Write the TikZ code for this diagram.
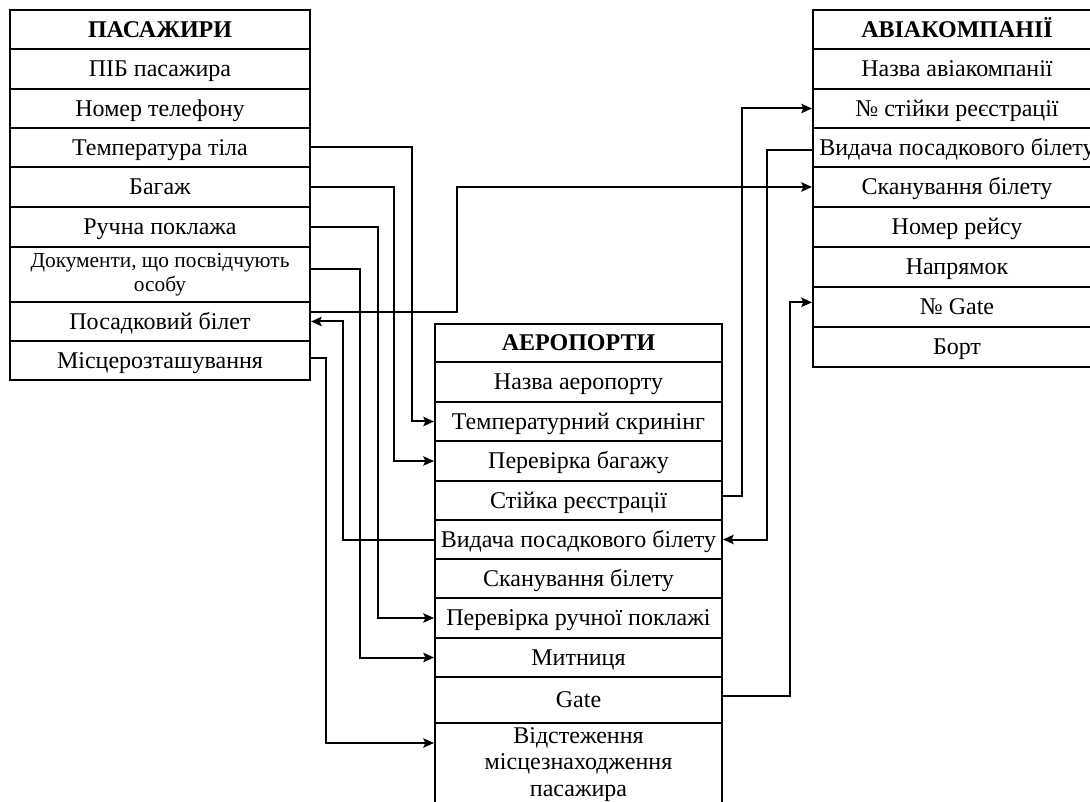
\documentclass[tikz,border=0pt]{standalone}
\usepackage{fontspec}
\setmainfont{Liberation Serif}
\usetikzlibrary{arrows.meta}
\newcommand\tcell[7][]{\node[cellst,#1,minimum width={(#4-#2)*0.75pt},minimum height={(#5-#3)*0.75pt}] (#6) at ({(#2+#4)/2},{(#3+#5)/2}) {#7};}
\tikzset{
  cellst/.style={draw,line width=1.5pt,inner sep=0pt,font=\fontsize{18}{20}\selectfont,align=center},
  one/.style={text height=11.9pt,text depth=0pt},
  hdr/.style={one,font=\fontsize{18}{20}\selectfont\bfseries},
  small/.style={font=\fontsize{16}{18}\selectfont},
  conn/.style={line width=1.5pt},
  arr/.style={conn,-{Stealth[length=8pt,width=7pt,inset=1.5pt]}}
}
\begin{document}
\begin{tikzpicture}[x=0.75pt,y=-0.75pt]
\useasboundingbox (0,0) rectangle (1090,802);
\clip (0,0) rectangle (1090,802);
\fill[white] (0,0) rectangle (1090,802);
% Left table
\tcell[hdr]{10}{10}{310}{49}{pH}{ПАСАЖИРИ}
\tcell[one]{10}{49}{310}{89}{pPib}{ПІБ пасажира}
\tcell[one]{10}{89}{310}{128}{pTel}{Номер телефону}
\tcell[one]{10}{128}{310}{167}{pTemp}{Температура тіла}
\tcell[one]{10}{167}{310}{207}{pBag}{Багаж}
\tcell[one]{10}{207}{310}{247}{pRuch}{Ручна поклажа}
\tcell[small]{10}{247}{310}{302}{pDoc}{Документи, що посвідчують\\особу}
\tcell[one]{10}{302}{310}{341}{pPos}{Посадковий білет}
\tcell[one]{10}{341}{310}{380}{pMis}{Місцерозташування}
% Airport table
\tcell[hdr]{435}{324}{722}{362}{aH}{АЕРОПОРТИ}
\tcell[one]{435}{362}{722}{402}{aNaz}{Назва аеропорту}
\tcell[one]{435}{402}{722}{441}{aTS}{Температурний скринінг}
\tcell[one]{435}{441}{722}{481}{aBag}{Перевірка багажу}
\tcell[one]{435}{481}{722}{520}{aSt}{Стійка реєстрації}
\tcell[one]{435}{520}{722}{559}{aVyd}{Видача посадкового білету}
\tcell[one]{435}{559}{722}{598}{aScan}{Сканування білету}
\tcell[one]{435}{598}{722}{638}{aRuch}{Перевірка ручної поклажі}
\tcell[one]{435}{638}{722}{677}{aMyt}{Митниця}
\tcell[one]{435}{677}{722}{723}{aGate}{Gate}
\tcell{435}{723}{722}{806}{aVid}{Відстеження\\місцезнаходження\\пасажира}
% Airlines table
\tcell[hdr]{813}{10}{1101}{49}{lH}{АВІАКОМПАНІЇ}
\tcell[one]{813}{49}{1101}{89}{lNaz}{Назва авіакомпанії}
\tcell[one]{813}{89}{1101}{128}{lSt}{№ стійки реєстрації}
\tcell[one]{813}{128}{1101}{167}{lVyd}{Видача посадкового білету}
\tcell[one]{813}{167}{1101}{207}{lScan}{Сканування білету}
\tcell[one]{813}{207}{1101}{247}{lRejs}{Номер рейсу}
\tcell[one]{813}{247}{1101}{287}{lNapr}{Напрямок}
\tcell[one]{813}{287}{1101}{327}{lGate}{№ Gate}
\tcell[one]{813}{327}{1101}{367}{lBort}{Борт}
% Connector end points
\coordinate (vidIn) at ([yshift=-15.75pt]aVid.north west);
\coordinate (gateIn) at ([yshift=3.5pt]lGate.west);
% Connectors
\draw[arr] (pTemp.east) -| (412,0 |- aTS.west) -- (aTS.west);
\draw[arr] (pBag.east) -| (394,0 |- aBag.west) -- (aBag.west);
\draw[arr] (pRuch.east) -| (378,0 |- aRuch.west) -- (aRuch.west);
\draw[arr] ([yshift=4pt]pDoc.east) -| (360,0 |- aMyt.west) -- (aMyt.west);
\draw[arr] (aVyd.west) -| (343,0 |- pPos.east) -- (pPos.east);
\draw[arr] ([yshift=7pt]pPos.east) -| (457,0 |- lScan.west) -- (lScan.west);
\draw[arr] ([yshift=2pt]pMis.east) -| (326,0 |- vidIn) -- (vidIn);
\draw[arr] ([yshift=3pt]aSt.east) -| (742,0 |- lSt.west) -- (lSt.west);
\draw[arr] ([yshift=-2pt]lVyd.west) -| (767,0 |- aVyd.east) -- (aVyd.east);
\draw[arr] ([yshift=3pt]aGate.east) -| (790,0 |- gateIn) -- (gateIn);
\end{tikzpicture}
\end{document}
